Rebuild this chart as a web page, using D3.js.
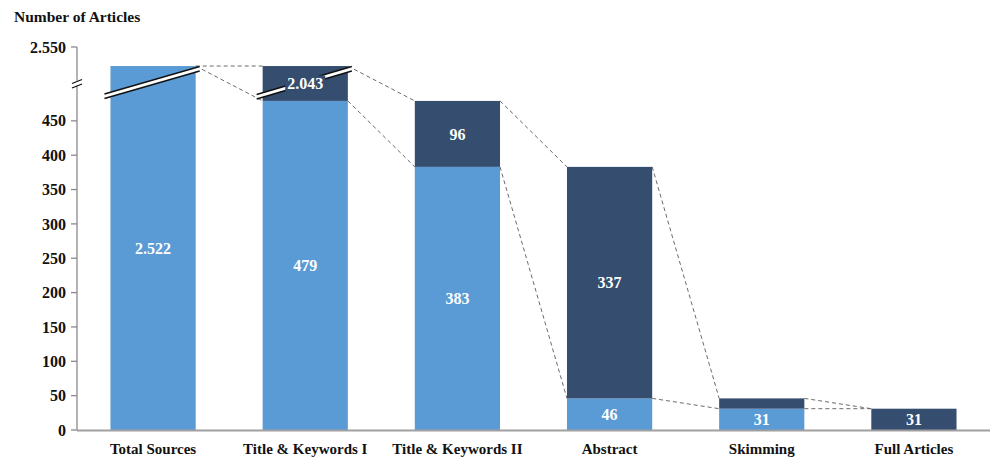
<!DOCTYPE html>
<html><head><meta charset="utf-8">
<script src="https://cdn.jsdelivr.net/npm/d3@7"></script>
<style>body{margin:0;background:#fff}svg{display:block}</style>
</head><body>
<svg id="c" width="990" height="459"></svg>
<script>
const categories = ["Total Sources","Title & Keywords I","Title & Keywords II","Abstract","Skimming","Full Articles"];
const kept     = [2522, 479, 383, 46, 31, 0];
const excluded = [0, 2043, 96, 337, 15, 31];
const yTicksLow = [0,50,100,150,200,250,300,350,400,450];
const yTicksHigh = [2550];
const lightColor = "#5B9BD5", darkColor = "#354D6E";
const font = "'Times New Roman','Liberation Serif',serif";

const svg = d3.select("#c");
const loc = d3.formatLocale({decimal:",",thousands:".",grouping:[3],currency:["",""]});
const fmt = loc.format(",d");

const x = d3.scaleBand().domain(categories).range([77, 990]).paddingInner(0.44).paddingOuter(0.22);
// broken axis: piecewise linear scale
const y = d3.scaleLinear().domain([0, 500, 2500, 2550]).range([430, 86.5, 81, 47]);

const totals = kept.map((k,i)=>k+excluded[i]);

// connectors
const conn = [];
for (let i=0;i<categories.length-1;i++){
  const xr = x(categories[i]) + x.bandwidth(), xl = x(categories[i+1]);
  conn.push([xr, y(totals[i]), xl, y(totals[i+1])]);
  conn.push([xr, y(kept[i]), xl, y(kept[i+1] || totals[i+1])]);
}
svg.append("g").selectAll("line").data(conn).join("line")
  .attr("x1",d=>d[0]).attr("y1",d=>d[1]).attr("x2",d=>d[2]).attr("y2",d=>d[3])
  .attr("stroke","#6b6b6b").attr("stroke-width",1).attr("stroke-dasharray","4,3");

// bars
const g = svg.append("g");
categories.forEach((c,i)=>{
  if (kept[i]>0) g.append("rect").attr("x",x(c)).attr("width",x.bandwidth())
    .attr("y",y(kept[i])).attr("height",y(0)-y(kept[i])).attr("fill",lightColor);
  if (excluded[i]>0) g.append("rect").attr("x",x(c)).attr("width",x.bandwidth())
    .attr("y",y(totals[i])).attr("height",y(kept[i])-y(totals[i])).attr("fill",darkColor);
});

// break bands across bars 0 and 1
const brk = svg.append("g");
function breakBand(i, yLeft, yRight){
  const x0 = x(categories[i]) - 6, x1 = x(categories[i]) + x.bandwidth() + 4;
  const gap = 4.5;
  brk.append("path").attr("d",`M${x0},${yLeft}L${x1},${yRight}L${x1},${yRight+gap}L${x0},${yLeft+gap}Z`)
    .attr("fill","#fff");
  brk.append("line").attr("x1",x0).attr("y1",yLeft).attr("x2",x1).attr("y2",yRight).attr("stroke","#111").attr("stroke-width",1.5);
  brk.append("line").attr("x1",x0).attr("y1",yLeft+gap).attr("x2",x1).attr("y2",yRight+gap).attr("stroke","#111").attr("stroke-width",1.5);
}
breakBand(0, y(kept[1]) - 7, y(totals[0]) + 0.5);
breakBand(1, y(kept[1]) - 6.5, y(totals[1]) + 0.5);

// labels
const lab = svg.append("g").attr("font-family",font).attr("font-weight","bold").attr("font-size",16)
  .attr("fill","#fff").attr("text-anchor","middle");
categories.forEach((c,i)=>{
  const cx = x(c)+x.bandwidth()/2;
  if (kept[i]>0) lab.append("text").attr("x",cx).attr("y",(y(0)+y(kept[i]))/2).attr("dy","0.35em").text(fmt(kept[i]));
  if (excluded[i]>=30) {
    const cy = (y(kept[i])+y(totals[i]))/2;
    if (i===1) {
      lab.append("rect").attr("x",cx-20).attr("y",cy-8).attr("width",40).attr("height",16).attr("fill",darkColor);
    }
    lab.append("text").attr("x",cx).attr("y",cy).attr("dy","0.35em").text(fmt(excluded[i]));
  }
});

// y axis
const ax = svg.append("g").attr("font-family",font).attr("font-weight","bold").attr("font-size",16).attr("fill","#111");
ax.append("line").attr("x1",77).attr("x2",77).attr("y1",y(2550)).attr("y2",y(0)).attr("stroke","#8a8a8a").attr("stroke-width",1.3);
yTicksLow.concat(yTicksHigh).forEach(v=>{
  ax.append("line").attr("x1",71).attr("x2",77).attr("y1",y(v)).attr("y2",y(v)).attr("stroke","#8a8a8a").attr("stroke-width",1.3);
  ax.append("text").attr("x",66).attr("y",y(v)).attr("dy","0.35em").attr("text-anchor","end").text(fmt(v));
});
// axis break mark
const yb = (y(500)+y(2500))/2;
ax.append("rect").attr("x",73).attr("y",yb-3).attr("width",8).attr("height",5).attr("fill","#fff");
[-2.2,2.2].forEach(o=>ax.append("line").attr("x1",72).attr("x2",82).attr("y1",yb+o+2).attr("y2",yb+o-2).attr("stroke","#111").attr("stroke-width",1.2));

// x axis
svg.append("line").attr("x1",77).attr("x2",990).attr("y1",y(0)+0.5).attr("y2",y(0)+0.5).attr("stroke","#a0a0a0").attr("stroke-width",2);
const xl = svg.append("g").attr("font-family",font).attr("font-weight","bold").attr("font-size",15).attr("fill","#111").attr("text-anchor","middle");
categories.forEach(c=>xl.append("text").attr("x",x(c)+x.bandwidth()/2).attr("y",454).text(c));

// title
svg.append("text").attr("x",14).attr("y",22).attr("font-family",font).attr("font-weight","bold").attr("font-size",15.5).attr("fill","#111").text("Number of Articles");
</script>
</body></html>
